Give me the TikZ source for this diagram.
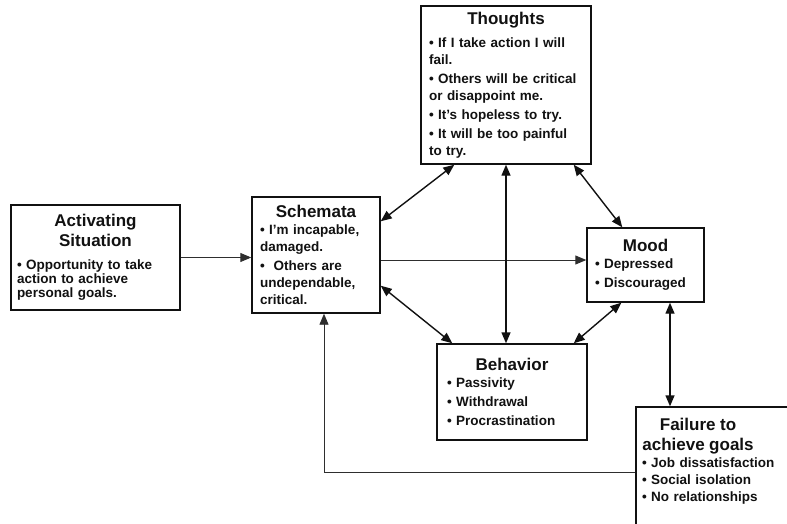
\documentclass[tikz,border=0pt]{standalone}
\usepackage{fontspec}
\setmainfont{Liberation Sans}
\usetikzlibrary{arrows.meta,calc}
\definecolor{ink}{HTML}{111111}
\definecolor{inksoft}{HTML}{2E2E2E}

% centred heading line of a box (optional width for off-centre headings)
\newcommand{\boxhead}[2][\linewidth]{{\fontsize{17}{20}\selectfont\makebox[#1]{#2}\par}}

\begin{document}
\begin{tikzpicture}[
  x=1pt, y=-1pt,
  card/.style={draw=ink, line width=1.4pt, fill=white, text=ink, align=left,
    inner xsep=8pt, inner ysep=2pt, anchor=center,
    font=\fontsize{13.5}{17}\selectfont\bfseries},
  link/.style={{Triangle[length=11pt,width=9pt]}-{Triangle[length=11pt,width=9pt]},
    draw=ink, line width=1.4pt},
  flow/.style={-{Triangle[length=11pt,width=9pt]}, draw=inksoft, line width=0.9pt}
]
\useasboundingbox (0,0) rectangle (787,524);

\node[card, minimum width=170pt, minimum height=158pt, text width=154pt] (tho) at (506,85)
  {\vspace*{6pt}\boxhead{Thoughts}
   • If I take action I will\\ fail.\\[2pt]
   • Others will be critical\\ or disappoint me.\\[2pt]
   • It's hopeless to try.\\[2pt]
   • It will be too painful\\ to try.};

\node[card, minimum width=169pt, minimum height=105pt, text width=157pt, inner xsep=6pt,
  font=\fontsize{13.5}{14}\selectfont\bfseries] (act) at (95.5,257.5)
  {\boxhead{Activating}\boxhead{Situation}\vspace{9pt}
   • Opportunity to take\\ action to achieve\\ personal goals.};

\node[card, minimum width=128pt, minimum height=116pt, text width=112pt] (sch) at (316,255)
  {\boxhead{Schemata}
   • I'm incapable,\\ damaged.\\[2pt]
   •\ \ Others are\\ undependable,\\ critical.};

\node[card, minimum width=117pt, minimum height=74pt, text width=101pt] (mood) at (645.5,265)
  {\boxhead{Mood}
   • Depressed\\[2pt]
   • Discouraged};

\node[card, minimum width=150pt, minimum height=96pt, text width=130pt, inner xsep=10pt] (beh) at (512,392)
  {\boxhead{Behavior}
   • Passivity\\[2pt]
   • Withdrawal\\[2pt]
   • Procrastination};

% runs off the lower right edge
\node[card, minimum width=156pt, minimum height=123pt, text width=144pt, inner xsep=6pt] (fail) at (714,468.5)
  {\boxhead[112pt]{Failure to}\boxhead[112pt]{achieve goals}
   • Job dissatisfaction\\
   • Social isolation\\
   • No relationships\\ \mbox{}};

\draw[flow] (act.east) -- (act.east -| sch.west);
\draw[flow] ([yshift=5pt]mood.west -| sch.east) -- ([yshift=5pt]mood.west);

\draw[link] ([xshift=34pt]tho.south west) -- ([yshift=-25pt]sch.north east);
\draw[link] (tho.south) -- (tho.south |- beh.north);
\draw[link] ([xshift=-18pt]tho.south east) -- ([xshift=36pt]mood.north west);
\draw[link] ([yshift=28pt]sch.south east) -- ([xshift=16pt]beh.north west);
\draw[link] ([xshift=35pt]mood.south west) -- ([xshift=-14pt]beh.north east);
\draw[link] ([xshift=24.5pt]mood.south) -- ([xshift=24.5pt]mood.south |- fail.north);

\draw[flow] ([yshift=-3.5pt]fail.west) -| ([xshift=8pt]sch.south);
\end{tikzpicture}
\end{document}
